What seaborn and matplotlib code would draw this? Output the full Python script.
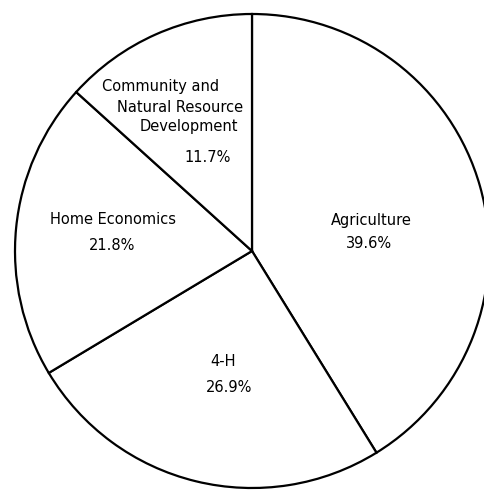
import matplotlib.pyplot as plt
import seaborn as sns

# slices, clockwise from 12 o'clock (sizes read from the drawn wedges)
categories = ['Agriculture', '4-H', 'Home Economics', 'Community and Natural Resource Development']
shares = [41.2, 25.2, 20.3, 13.3]
pct_labels = ['39.6%', '26.9%', '21.8%', '11.7%']

sns.set_theme(style='white')
plt.rcParams['font.family'] = ['DejaVu Sans']

W, H = 485, 492
CX, CY, R = 252, 251, 237

fig = plt.figure(figsize=(W / 100, H / 100), dpi=100)
ax = fig.add_axes([0, 0, 1, 1])

ax.pie(shares, startangle=90, counterclock=False, radius=1,
       colors=['white'] * len(shares),
       wedgeprops={'edgecolor': 'black', 'linewidth': 1.6})

ax.set_aspect('auto')
ax.set_xlim(-CX / R, (W - CX) / R)
ax.set_ylim(-(H - CY) / R, CY / R)
ax.axis('off')


def put(txt, px, py):
    ax.text((px - CX) / R, (CY - py) / R, txt, ha='center', va='center',
            fontsize=10.5, color='black')


put('Community and', 161, 87)
put('Natural Resource', 180, 107)
put('Development', 189, 127)
put(pct_labels[3], 208, 157)

put(categories[2], 113, 220)
put(pct_labels[2], 112, 246)

put(categories[0], 371, 220)
put(pct_labels[0], 369, 243)

put(categories[1], 223, 362)
put(pct_labels[1], 229, 388)

plt.savefig('out.png', dpi=100)
